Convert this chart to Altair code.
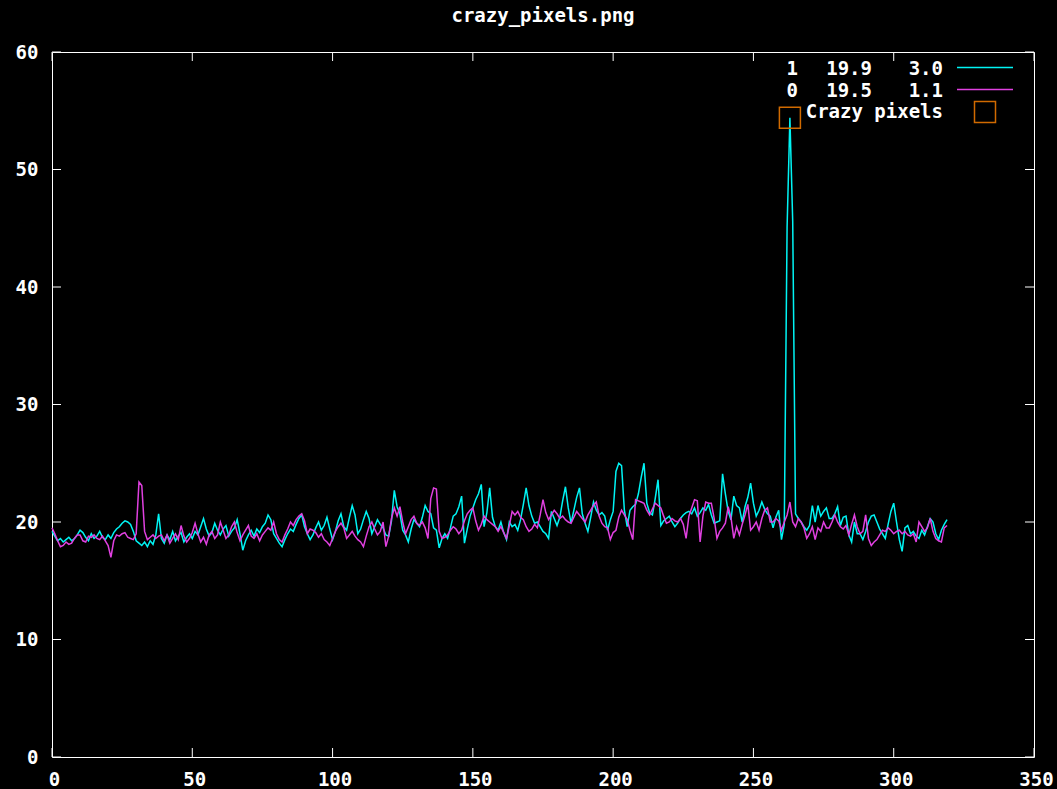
import altair as alt
import pandas as pd

TITLE = "crazy_pixels.png"

# series "1" (cyan)
cyan_series = [
    19.2, 18.8, 18.4, 18.6, 18.3, 18.5, 18.7, 18.4, 18.6, 18.9,
    19.3, 19.1, 18.7, 18.4, 19.0, 18.6, 18.8, 19.2, 18.7, 18.5,
    18.9, 18.6, 19.1, 19.4, 19.6, 19.9, 20.1, 20.0, 19.8, 19.2,
    18.4, 18.2, 18.0, 18.3, 17.9, 18.4, 18.1, 18.9, 20.7, 18.6,
    18.2, 18.9, 18.5, 19.2, 18.4, 18.8, 19.1, 18.3, 18.7, 19.0,
    18.6, 19.2, 18.9, 19.6, 20.3, 19.4, 18.8, 19.1, 19.9, 19.3,
    18.9, 19.4, 19.7, 18.8, 19.2, 19.5, 20.2, 19.0, 17.6, 18.4,
    18.9, 19.3, 18.8, 19.4, 19.1, 19.6, 19.9, 20.6, 20.2, 19.0,
    18.6, 18.2, 17.9, 18.5, 19.0, 19.4, 19.2, 19.8, 20.3, 20.6,
    19.6, 19.0, 18.5, 18.9, 19.5, 20.0, 19.3, 19.7, 20.4, 19.4,
    18.5, 19.2, 20.1, 20.7, 19.6, 19.3, 20.4, 21.4, 20.6, 19.0,
    19.4, 20.2, 20.9, 20.3, 19.0, 19.6, 20.2, 19.8, 19.5, 18.9,
    18.8, 20.1, 22.7, 21.3, 20.7, 19.3, 18.9, 18.3, 19.4, 20.2,
    19.9, 19.6, 20.4, 21.4, 20.9, 20.7, 19.5, 19.3, 17.8, 18.6,
    19.0, 18.6, 19.5, 20.5, 20.7, 21.3, 22.2, 18.2, 19.4,
    20.5, 21.2, 21.9, 22.4, 23.2, 19.6, 20.8, 22.9, 20.4, 19.6,
    19.3, 20.0, 19.1, 18.5, 20.0, 19.6, 19.8, 19.3, 20.2, 21.5,
    22.9, 21.4, 20.5, 19.9, 20.0, 19.6, 19.2, 19.0, 18.6, 20.9,
    20.3, 19.7, 20.4, 21.8, 23.0, 21.2, 19.9, 21.0, 22.1, 22.9,
    20.7, 19.9, 19.2, 20.4, 21.7, 21.0, 20.6, 20.8, 20.5, 19.3,
    20.2, 20.9, 24.3, 25.0, 24.8, 21.0, 19.6, 21.0, 21.3, 21.5,
    22.4, 23.8, 25.0, 21.6, 20.8, 20.6, 22.0, 23.6, 19.7, 20.1,
    20.3, 20.5, 20.0, 19.6, 19.9, 20.3, 20.6, 20.8, 20.9,
    20.7, 21.2, 20.5, 20.8, 21.2, 21.0, 21.5, 20.6, 19.9, 20.0,
    20.1, 24.1, 22.4, 20.9, 20.2, 22.2, 21.4, 21.2, 20.0, 21.3,
    22.1, 23.3, 21.6, 20.5, 21.0, 21.7, 21.1, 20.7, 20.5, 19.5,
    20.4, 21.0, 18.5, 19.8, 45.1, 54.4, 45.6, 20.7, 20.3, 20.0,
    19.6, 19.3, 19.7, 21.4, 20.0, 21.4, 20.5, 20.9, 21.2, 20.3,
    20.3, 20.7, 21.3, 19.7, 20.4, 20.5, 18.9, 18.3, 20.0, 19.0,
    19.0, 18.5, 19.2, 20.0, 20.5, 20.6, 20.0, 19.4, 19.0, 18.6,
    19.8, 20.9, 21.6, 20.0, 18.5, 17.5, 19.5, 19.7, 19.0, 19.2,
    18.8, 18.6, 19.3, 18.9, 19.6, 20.3, 20.0, 19.0, 18.5, 19.3,
    19.8, 20.2,
]

# series "0" (magenta)
magenta_series = [
    19.5, 19.0, 18.4, 17.9, 18.0, 18.3, 18.1, 18.2, 18.6, 18.9,
    18.9, 18.4, 18.3, 18.8, 18.7, 18.9, 18.6, 18.5, 18.8, 18.4,
    18.0, 17.0, 18.4, 18.9, 18.8, 19.0, 19.1, 18.7, 18.6, 18.5,
    19.0, 23.4, 23.1, 19.2, 18.5, 18.7, 18.9, 18.6, 18.8, 18.9,
    18.4, 18.9, 18.2, 18.6, 19.0, 18.5, 19.7, 18.8, 18.3, 18.6,
    19.1, 19.9, 19.0, 18.3, 18.7, 18.1, 18.9, 19.2, 18.6, 18.9,
    20.0, 19.3, 18.6, 18.9, 19.6, 20.0, 19.1, 18.4, 18.9, 19.3,
    19.7, 18.8, 18.6, 19.0, 18.4, 18.9, 19.2, 19.5, 19.3, 20.0,
    19.0, 18.5, 18.3, 18.9, 19.4, 20.0, 19.7, 20.2, 20.5, 20.7,
    20.1, 19.0, 19.4, 19.3, 19.1, 18.7, 19.0, 18.5, 18.3, 18.0,
    18.6, 19.2, 19.6, 19.9, 19.5, 18.6, 18.9, 19.2, 18.8, 18.5,
    18.3, 17.9, 18.8, 19.6, 20.0, 19.4, 18.9, 19.2, 20.0, 17.9,
    18.8, 20.3, 21.2, 20.5, 21.3, 20.0, 19.0, 19.6, 20.2, 20.5,
    19.9, 19.7, 20.0, 19.5, 18.6, 22.0, 22.9, 22.8, 19.2, 18.6,
    18.7, 18.9, 19.3, 19.6, 19.4, 19.0, 19.3, 20.1, 20.7,
    21.0, 21.2, 20.1, 19.3, 19.8, 20.5, 20.2, 20.0, 19.8, 19.6,
    19.2, 19.6, 19.1, 18.6, 19.7, 20.9, 20.6, 20.9, 20.4, 20.2,
    19.6, 19.2, 19.4, 19.8, 19.5, 20.6, 21.9, 20.8, 20.2, 20.6,
    21.0, 20.7, 20.3, 20.5, 20.2, 20.0, 19.9, 20.4, 20.9, 20.6,
    20.3, 20.0, 20.6, 21.0, 21.4, 21.7, 20.5, 19.9, 19.6, 19.5,
    18.5, 19.1, 19.3, 20.4, 21.0, 20.6, 20.2, 19.3, 18.5, 21.9,
    21.8, 21.7, 21.6, 21.0, 20.6, 21.1, 21.6, 21.4, 21.2, 20.5,
    19.9, 20.0, 20.3, 20.1, 20.0, 20.3, 19.8, 18.6, 20.5,
    21.2, 21.9, 21.8, 18.3, 20.5, 21.7, 21.6, 21.6, 20.3, 18.6,
    19.2, 19.5, 19.9, 21.3, 20.4, 18.6, 19.6, 18.9, 19.8, 20.6,
    21.5, 19.3, 19.6, 20.0, 19.3, 20.3, 21.0, 21.2, 20.0, 20.0,
    20.3, 20.1, 19.3, 20.0, 20.6, 21.7, 20.0, 19.6, 20.3, 20.0,
    19.5, 18.6, 19.0, 19.6, 18.5, 19.5, 19.2, 20.0, 19.5, 19.5,
    20.0, 20.6, 20.0, 19.6, 19.4, 19.7, 18.9, 19.8, 20.6, 19.6,
    19.0, 19.2, 20.6, 18.6, 18.0, 18.3, 18.5, 18.9, 19.3, 19.2,
    19.5, 19.3, 19.0, 19.2, 19.3, 19.0, 19.2, 18.9, 18.8, 19.0,
    18.3, 20.0, 19.6, 19.2, 19.5, 20.3, 19.2, 18.6, 18.4, 18.3,
    19.5, 19.7,
]

x_ticks = [0, 50, 100, 150, 200, 250, 300, 350]
y_ticks = [0, 10, 20, 30, 40, 50, 60]

legend_row1 = ["1", "19.9", "3.0"]
legend_row2 = ["0", "19.5", "1.1"]
marker_label = "Crazy pixels"
crazy_x = [263]
crazy_y = [54.4]

CYAN = "#00f4f4"
MAGENTA = "#e040e0"
ORANGE = "#d06a00"
FONT = "DejaVu Sans Mono"
FS = 19
W, H = 982, 705

n = min(len(cyan_series), len(magenta_series))
df_c = pd.DataFrame({"x": list(range(n)), "v": cyan_series[:n]})
df_m = pd.DataFrame({"x": list(range(n)), "v": magenta_series[:n]})

xs = alt.Scale(domain=[0, 350], nice=False, zero=False)
ys = alt.Scale(domain=[0, 60], nice=False, zero=False)

x_axis = alt.Axis(values=x_ticks, format="d", domain=False, ticks=False, grid=False,
                  labelColor="white", labelFont=FONT, labelFontSize=FS, labelFontWeight="bold",
                  labelPadding=13, labelFlush=False, labelOverlap=False, labelOffset=2, title=None)
y_axis = alt.Axis(values=y_ticks, format="d", domain=False, ticks=False, grid=False,
                  labelColor="white", labelFont=FONT, labelFontSize=FS, labelFontWeight="bold",
                  labelPadding=14, labelOverlap=False, title=None)

line_c = alt.Chart(df_c).mark_line(color=CYAN, strokeWidth=1.5).encode(
    x=alt.X("x:Q", scale=xs, axis=x_axis), y=alt.Y("v:Q", scale=ys, axis=y_axis))
line_m = alt.Chart(df_m).mark_line(color=MAGENTA, strokeWidth=1.5).encode(
    x=alt.X("x:Q", scale=xs), y=alt.Y("v:Q", scale=ys))

xt = pd.DataFrame({"t": x_ticks})
yt = pd.DataFrame({"t": y_ticks})
tick_bottom = alt.Chart(xt).mark_rule(color="white", strokeWidth=1).encode(
    x=alt.X("t:Q", scale=xs), y=alt.value(H), y2=alt.value(H - 9))
tick_top = alt.Chart(xt).mark_rule(color="white", strokeWidth=1).encode(
    x=alt.X("t:Q", scale=xs), y=alt.value(0), y2=alt.value(9))
tick_left = alt.Chart(yt).mark_rule(color="white", strokeWidth=1).encode(
    y=alt.Y("t:Q", scale=ys), x=alt.value(0), x2=alt.value(9))
tick_right = alt.Chart(yt).mark_rule(color="white", strokeWidth=1).encode(
    y=alt.Y("t:Q", scale=ys), x=alt.value(W), x2=alt.value(W - 9))

crazy = alt.Chart(pd.DataFrame({"x": crazy_x, "v": crazy_y})).mark_point(
    shape="square", filled=False, size=441, color=ORANGE, strokeWidth=1.5, opacity=1).encode(
    x=alt.X("x:Q", scale=xs), y=alt.Y("v:Q", scale=ys))


def label(text, px, py):
    return alt.Chart(pd.DataFrame({"s": [text]})).mark_text(
        align="right", baseline="middle", color="white", font=FONT, fontSize=FS,
        fontWeight="bold").encode(text="s:N", x=alt.value(px), y=alt.value(py))


legend_layers = []
col_right = [746, 820, 891]
for row, py in ((legend_row1, 16.5), (legend_row2, 39)):
    for s, px in zip(row, col_right):
        legend_layers.append(label(s, px, py))
legend_layers.append(label(marker_label, 891, 60))

leg_line_c = alt.Chart(pd.DataFrame({"a": [0]})).mark_rule(color=CYAN, strokeWidth=1.5).encode(
    x=alt.value(905), x2=alt.value(961), y=alt.value(15.5))
leg_line_m = alt.Chart(pd.DataFrame({"a": [0]})).mark_rule(color=MAGENTA, strokeWidth=1.5).encode(
    x=alt.value(905), x2=alt.value(961), y=alt.value(37.5))
leg_sq = alt.Chart(pd.DataFrame({"a": [0]})).mark_point(
    shape="square", filled=False, size=441, color=ORANGE, strokeWidth=1.5, opacity=1).encode(
    x=alt.value(933), y=alt.value(60))

chart = alt.layer(
    line_c, line_m, tick_bottom, tick_top, tick_left, tick_right, crazy,
    *legend_layers, leg_line_c, leg_line_m, leg_sq
).properties(
    width=W, height=H,
    title=alt.TitleParams(TITLE, color="white", font=FONT, fontSize=FS, fontWeight="bold",
                          anchor="middle", offset=17),
    background="black",
    padding={"left": 52, "top": 52, "right": 23, "bottom": 32},
    autosize=alt.AutoSizeParams(type="none"),
).configure_view(stroke="white", strokeWidth=1)

chart.save("out.html", embed_options={"renderer": "svg", "actions": False})
